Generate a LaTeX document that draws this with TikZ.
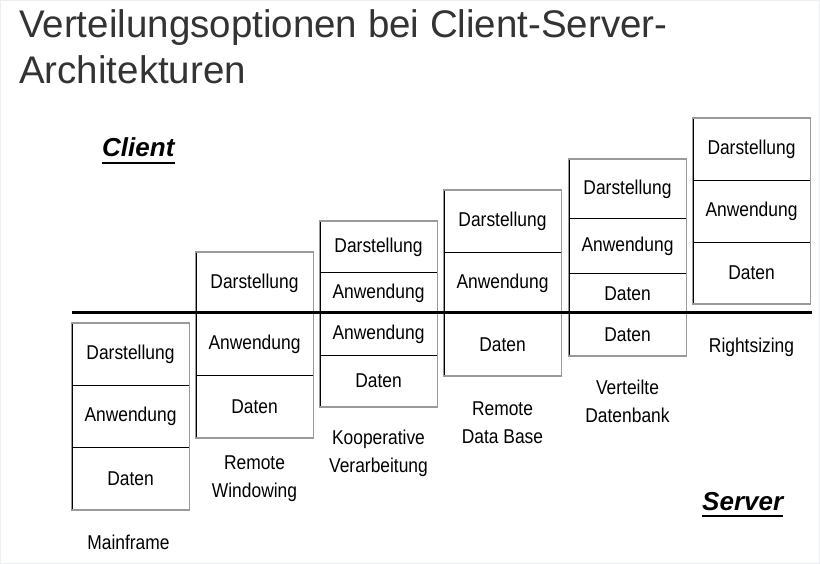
\documentclass[tikz,border=0pt]{standalone}
\usepackage{fontspec}
\setmainfont{Liberation Sans}
\newfontfamily\schmal[FakeStretch=0.87]{Liberation Sans}
\usetikzlibrary{positioning}
\definecolor{titelgrau}{HTML}{333333}
\definecolor{rahmengrau}{HTML}{9A9A9A}
\definecolor{randgrau}{HTML}{ECEEF2}
\tikzset{
    zelle/.style={
        draw=black,
        line width=1pt,
        minimum width=117pt,
        inner sep=0pt,
        anchor=north,
        font=\schmal\fontsize{20}{24}\selectfont
    },
    rahmen/.style={draw=rahmengrau,line width=1.5pt},
    etikett/.style={align=center,font=\schmal\fontsize{20}{28}\selectfont},
    seite/.style={inner sep=0pt,anchor=base west,font=\bfseries\itshape\fontsize{26}{30}\selectfont}
}
\newcommand{\schicht}[5] {
    \node[zelle,minimum height={#3pt}] (#4) at ({#1}, {#2}) {#5};
}
\newcommand{\saeule}[2] {
    \draw[rahmen] (#1.north west) rectangle (#2.south east);
}

\begin{document}
\begin{tikzpicture}[x=1pt,y=-1pt]
        \useasboundingbox (0,0) rectangle (820,564);
        \fill[white] (0,0) rectangle (820,564);
        \draw[randgrau,line width=2pt] (0,0) rectangle (820,564);
        \node[anchor=base west,inner sep=0pt,align=left,text=titelgrau,
              font=\fontsize{38.5}{46}\selectfont] (titel) at (19,84)
              {Verteilungsoptionen bei Client-Server-\\Architekturen};
        % Mainframe
        \schicht{130.5}{323}{62}{mf1}{Darstellung}
        \schicht{130.5}{385}{62}{mf2}{Anwendung}
        \schicht{130.5}{447}{62}{mf3}{Daten}
        \saeule{mf1}{mf3}
        % Remote Windowing
        \schicht{254.5}{252}{61}{rw1}{Darstellung}
        \schicht{254.5}{313}{62}{rw2}{Anwendung}
        \schicht{254.5}{375}{62}{rw3}{Daten}
        \saeule{rw1}{rw3}
        % Kooperative Verarbeitung
        \schicht{378.5}{221}{51}{kv1}{Darstellung}
        \schicht{378.5}{272}{41}{kv2}{Anwendung}
        \schicht{378.5}{313}{42}{kv3}{Anwendung}
        \schicht{378.5}{355}{51}{kv4}{Daten}
        \saeule{kv1}{kv4}
        % Remote Data Base
        \schicht{502.5}{190}{62}{rd1}{Darstellung}
        \schicht{502.5}{252}{61}{rd2}{Anwendung}
        \schicht{502.5}{313}{62}{rd3}{Daten}
        \saeule{rd1}{rd3}
        % Verteilte Datenbank
        \schicht{627.5}{159}{59}{vd1}{Darstellung}
        \schicht{627.5}{218}{55}{vd2}{Anwendung}
        \schicht{627.5}{273}{40}{vd3}{Daten}
        \schicht{627.5}{313}{42}{vd4}{Daten}
        \saeule{vd1}{vd4}
        % Rightsizing
        \schicht{751.5}{118}{62}{rs1}{Darstellung}
        \schicht{751.5}{180}{62}{rs2}{Anwendung}
        \schicht{751.5}{242}{61}{rs3}{Daten}
        \saeule{rs1}{rs3}
        % Trennlinie Client / Server
        \coordinate (links) at (72,313);
        \coordinate (rechts) at (812,313);
        \draw[line width=3pt] (links) -- (rechts);
        \node[seite] (client) at (102,157) {Client};
        \draw[line width=2.5pt] ([yshift=-6pt]client.base west) -- ([yshift=-6pt]client.base east);
        \node[seite] (server) at (702,510) {Server};
        \draw[line width=2.5pt] ([yshift=-6pt]server.base west) -- ([yshift=-6pt]server.base east);
        % Bezeichnungen
        \node[etikett] (lmf) at (128.5,542) {Mainframe};
        \node[etikett] (lrw) at (254.5,479) {Remote\\Windowing};
        \node[etikett] (lkv) at (378.5,453.5) {Kooperative\\Verarbeitung};
        \node[etikett] (lrd) at (502.5,422.5) {Remote\\Data Base};
        \node[etikett] (lvd) at (627.5,401) {Verteilte\\Datenbank};
        \node[etikett] (lrs) at (751.5,347) {Rightsizing};
    \end{tikzpicture}
\end{document}
